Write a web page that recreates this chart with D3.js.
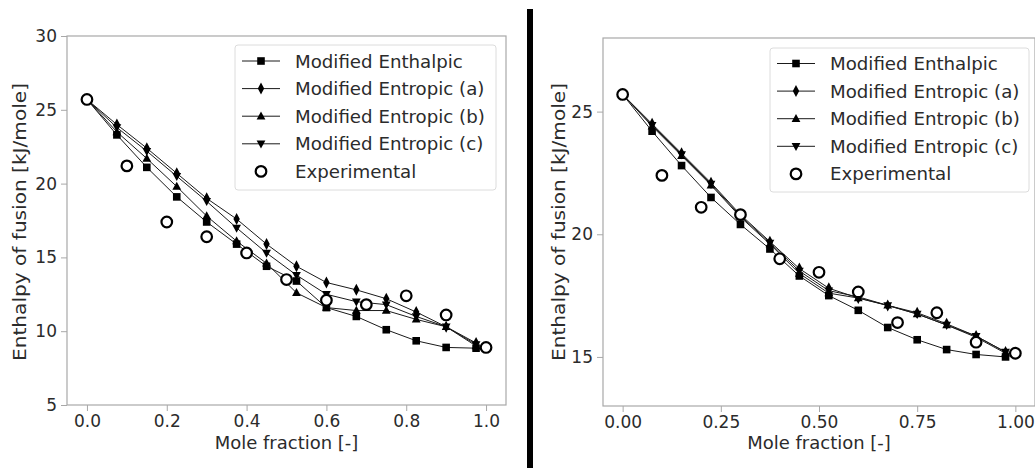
<!DOCTYPE html>
<html>
<head>
<meta charset="utf-8">
<script src="https://cdn.jsdelivr.net/npm/d3@7"></script>
<style>
  html, body { margin: 0; padding: 0; background: #fff; }
  svg text { font-family: "DejaVu Sans", sans-serif; fill: #2b2b2b; }
</style>
</head>
<body>
<svg id="chart" width="1035" height="468"></svg>
<script>
// Mole fractions where the models and the experiment were evaluated
const modelX = [0, 0.075, 0.15, 0.225, 0.3, 0.375, 0.45, 0.525, 0.6, 0.675, 0.75, 0.825, 0.9, 0.975];
const expX = [0, 0.1, 0.2, 0.3, 0.4, 0.5, 0.6, 0.7, 0.8, 0.9, 1.0];

const seriesNames = ['Modified Enthalpic', 'Modified Entropic (a)', 'Modified Entropic (b)', 'Modified Entropic (c)', 'Experimental'];

// Left panel (kJ/mole)
const leftEnthalpic = [25.7, 23.3, 21.1, 19.1, 17.4, 15.9, 14.4, 13.4, 11.6, 11.0, 10.1, 9.35, 8.9, 8.85];
const leftEntropicA = [25.7, 24.0, 22.4, 20.7, 19.0, 17.6, 15.9, 14.4, 13.3, 12.8, 12.2, 11.3, 10.3, 9.2];
const leftEntropicB = [25.7, 23.5, 21.7, 19.8, 17.8, 16.1, 14.6, 12.6, 11.6, 11.4, 11.4, 10.8, 10.3, 9.0];
const leftEntropicC = [25.7, 23.8, 22.2, 20.5, 18.8, 17.0, 15.3, 13.8, 12.5, 12.0, 11.8, 11.0, 10.3, 9.1];
const leftExperimental = [25.7, 21.2, 17.4, 16.4, 15.3, 13.5, 12.1, 11.8, 12.4, 11.1, 8.9];

// Right panel (kJ/mole)
const rightEnthalpic = [25.7, 24.2, 22.8, 21.5, 20.4, 19.4, 18.3, 17.5, 16.9, 16.2, 15.7, 15.3, 15.1, 15.0];
const rightEntropicA = [25.7, 24.5, 23.3, 22.1, 20.8, 19.7, 18.6, 17.8, 17.4, 17.1, 16.8, 16.35, 15.85, 15.2];
const rightEntropicB = [25.7, 24.4, 23.2, 22.0, 20.7, 19.6, 18.4, 17.6, 17.4, 17.1, 16.75, 16.3, 15.8, 15.15];
const rightEntropicC = [25.7, 24.45, 23.25, 22.05, 20.75, 19.65, 18.5, 17.7, 17.45, 17.1, 16.75, 16.3, 15.85, 15.2];
const rightExperimental = [25.7, 22.4, 21.1, 20.8, 19.0, 18.45, 17.65, 16.4, 16.8, 15.6, 15.15];

const leftXTicks = [0, 0.2, 0.4, 0.6, 0.8, 1.0];
const leftYTicks = [5, 10, 15, 20, 25, 30];
const rightXTicks = [0, 0.25, 0.5, 0.75, 1.0];
const rightYTicks = [15, 20, 25];

const LINE_COLOR = '#1a1a1a';
const FRAME_COLOR = '#a8a8a8';

// marker shapes, centred on 0,0
const markers = [
    'M-3.8,-3.8h7.6v7.6h-7.6Z',           // square
    'M0,-6L3.2,0L0,6L-3.2,0Z',            // thin diamond
    'M0,-4.8L4.4,3.2L-4.4,3.2Z',          // triangle up
    'M0,4.8L4.4,-3.2L-4.4,-3.2Z'          // triangle down
];

const svg = d3.select('#chart');

// divider bar between the panels
svg.append('rect')
    .attr('x', 527).attr('y', 9)
    .attr('width', 6).attr('height', 459)
    .attr('fill', '#000');

function drawPanel(cfg) {
    const x = d3.scaleLinear().domain([-0.05, 1.05]).range([cfg.left, cfg.right]);
    const y = d3.scaleLinear().domain(cfg.yDomain).range([cfg.bottom, cfg.top]);
    const g = svg.append('g');

    const xAxis = d3.axisBottom(x).tickValues(cfg.xTicks).tickFormat(d3.format(cfg.xFormat))
        .tickSize(6).tickSizeOuter(0).tickPadding(4);
    const yAxis = d3.axisLeft(y).tickValues(cfg.yTicks).tickFormat(d3.format('d'))
        .tickSize(6).tickSizeOuter(0).tickPadding(4);

    const gx = g.append('g').attr('transform', `translate(0,${cfg.bottom})`).call(xAxis);
    const gy = g.append('g').attr('transform', `translate(${cfg.left},0)`).call(yAxis);
    [gx, gy].forEach(a => {
        a.select('.domain').remove();
        a.selectAll('line').attr('stroke', FRAME_COLOR);
        a.selectAll('text').style('font-size', '17px').attr('fill', '#2b2b2b');
    });

    // frame
    g.append('rect')
        .attr('x', cfg.left).attr('y', cfg.top)
        .attr('width', cfg.right - cfg.left).attr('height', cfg.bottom - cfg.top)
        .attr('fill', 'none').attr('stroke', FRAME_COLOR).attr('stroke-width', 1.2);

    const line = d3.line().x(d => x(d[0])).y(d => y(d[1]));

    cfg.models.forEach((vals, i) => {
        const pts = modelX.map((m, k) => [m, vals[k]]);
        g.append('path').datum(pts)
            .attr('d', line)
            .attr('fill', 'none')
            .attr('stroke', LINE_COLOR)
            .attr('stroke-width', 1);
        g.selectAll(null).data(pts).enter().append('path')
            .attr('d', markers[i])
            .attr('transform', d => `translate(${x(d[0])},${y(d[1])})`)
            .attr('fill', '#000');
    });

    g.selectAll(null).data(expX.map((m, k) => [m, cfg.exp[k]])).enter().append('circle')
        .attr('cx', d => x(d[0])).attr('cy', d => y(d[1]))
        .attr('r', 5.3)
        .attr('fill', '#fff').attr('stroke', '#000').attr('stroke-width', 2.2);

    // axis titles
    svg.append('text')
        .attr('x', (x(0) + x(1)) / 2).attr('y', 449)
        .attr('text-anchor', 'middle')
        .style('font-size', '18px')
        .text('Mole fraction [-]');

    svg.append('text')
        .attr('transform', `translate(${cfg.yLabelX},${cfg.yLabelY}) rotate(-90)`)
        .attr('text-anchor', 'middle')
        .attr('textLength', 278).attr('lengthAdjust', 'spacingAndGlyphs')
        .style('font-size', '18px')
        .text('Enthalpy of fusion [kJ/mole]');

    // legend
    const lg = svg.append('g');
    lg.append('rect')
        .attr('x', cfg.legend.x).attr('y', cfg.legend.y)
        .attr('width', cfg.legend.w).attr('height', cfg.legend.h)
        .attr('rx', 3)
        .attr('fill', '#fff').attr('fill-opacity', 0.85)
        .attr('stroke', '#dcdcdc');

    seriesNames.forEach((name, i) => {
        const ry = cfg.legend.row0 + i * 27.6;
        const lx0 = cfg.legend.x + 7, lx1 = cfg.legend.x + 45, mx = cfg.legend.x + 26;
        if (i < 4) {
            lg.append('line')
                .attr('x1', lx0).attr('x2', lx1).attr('y1', ry).attr('y2', ry)
                .attr('stroke', LINE_COLOR).attr('stroke-width', 1);
            lg.append('path').attr('d', markers[i])
                .attr('transform', `translate(${mx},${ry})`).attr('fill', '#000');
        } else {
            lg.append('circle').attr('cx', mx).attr('cy', ry).attr('r', 5.3)
                .attr('fill', '#fff').attr('stroke', '#000').attr('stroke-width', 2.2);
        }
        lg.append('text')
            .attr('x', cfg.legend.x + 60).attr('y', ry)
            .attr('dy', '0.36em')
            .style('font-size', '18.2px')
            .text(name);
    });
}

drawPanel({
    left: 67, right: 506, top: 36, bottom: 405,
    yDomain: [5, 30], xTicks: leftXTicks, yTicks: leftYTicks, xFormat: '.1f',
    models: [leftEnthalpic, leftEntropicA, leftEntropicB, leftEntropicC],
    exp: leftExperimental,
    yLabelX: 26, yLabelY: 222,
    legend: { x: 235, y: 45, w: 261, h: 145, row0: 61 }
});

drawPanel({
    left: 603, right: 1035, top: 38, bottom: 406,
    yDomain: [13, 28], xTicks: rightXTicks, yTicks: rightYTicks, xFormat: '.2f',
    models: [rightEnthalpic, rightEntropicA, rightEntropicB, rightEntropicC],
    exp: rightExperimental,
    yLabelX: 565, yLabelY: 222,
    legend: { x: 770, y: 48, w: 259, h: 144, row0: 63.5 }
});
</script>
</body>
</html>
